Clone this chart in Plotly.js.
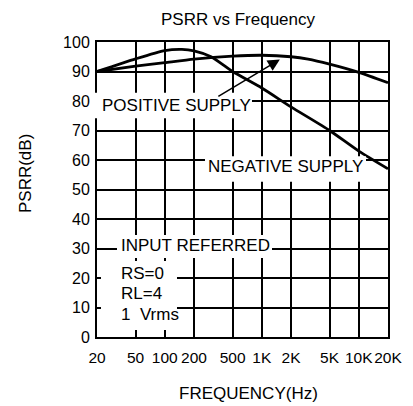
<!DOCTYPE html>
<html>
<head>
<meta charset="utf-8">
<script src="https://cdn.plot.ly/plotly-3.0.1.min.js"></script>
<style>html,body{margin:0;padding:0;background:#fff;}#chart{width:413px;height:406px;}</style>
</head>
<body>
<div id="chart"></div>
<script>
// Data
const freqA = [20, 50, 100, 150, 200, 300, 500, 1000, 2000, 5000, 10000, 20000];
const psrrA = [90, 94.3, 97.1, 97.5, 97.0, 95.0, 90.0, 84.4, 78.0, 70.0, 63.0, 57.0];
const freqB = [20, 50, 100, 200, 500, 1000, 2000, 3000, 5000, 10000, 20000];
const psrrB = [90, 91.8, 93.0, 94.2, 95.2, 95.5, 95.0, 94.2, 92.5, 89.7, 86.2];
const tickVals = [20, 50, 100, 200, 500, 1000, 2000, 5000, 10000, 20000];
const tickText = ['20', '50', '100', '200', '500', '1K', '2K', '5K', '10K', '20K'];
const yTicks = [0, 10, 20, 30, 40, 50, 60, 70, 80, 90, 100];

const FONT = 'Arial, "Liberation Sans", sans-serif';
const lineStyle = {color: '#000', width: 2.8, shape: 'spline', smoothing: 0.6};

const traces = [
  {x: freqA, y: psrrA, type: 'scatter', mode: 'lines', line: lineStyle, name: 'NEGATIVE SUPPLY', hoverinfo: 'x+y'},
  {x: freqB, y: psrrB, type: 'scatter', mode: 'lines', line: lineStyle, name: 'POSITIVE SUPPLY', hoverinfo: 'x+y'}
];

function box(x0, x1, y0, y1) {
  return {type: 'rect', xref: 'paper', yref: 'paper', x0: x0, x1: x1, y0: y0, y1: y1,
          fillcolor: '#fff', line: {width: 0}, layer: 'above'};
}
function label(text, x, y, xanchor) {
  return {text: text, xref: 'paper', yref: 'paper', x: x, y: y, xanchor: xanchor || 'center',
          yanchor: 'middle', showarrow: false, font: {family: FONT, size: 17, color: '#000'}};
}

const layout = {
  width: 413, height: 406,
  margin: {l: 97, r: 25, t: 42, b: 69, pad: 0},
  paper_bgcolor: '#fff', plot_bgcolor: '#fff',
  showlegend: false,
  font: {family: FONT, color: '#000'},
  title: {text: 'PSRR vs Frequency', font: {family: FONT, size: 17, color: '#000'},
          xref: 'container', yref: 'container', x: 238 / 413, xanchor: 'center', y: 1 - 19 / 406, yanchor: 'middle'},
  xaxis: {type: 'log', range: [Math.log10(20), Math.log10(20000)], tickmode: 'array',
          tickvals: tickVals, ticktext: tickText, tickangle: 0, ticklabelstandoff: 5,
          showgrid: true, gridcolor: '#000', gridwidth: 2,
          showline: true, linecolor: '#000', linewidth: 2, mirror: true, ticks: '', zeroline: false,
          tickfont: {family: FONT, size: 15.5, color: '#000'}, fixedrange: true},
  yaxis: {range: [0, 100], tickmode: 'array', tickvals: yTicks, ticklabelstandoff: 2,
          showgrid: true, gridcolor: '#000', gridwidth: 2,
          showline: true, linecolor: '#000', linewidth: 2, mirror: true, ticks: '', zeroline: false,
          tickfont: {family: FONT, size: 16, color: '#000'}, fixedrange: true},
  shapes: [
    box(-0.0069, 0.5326, 0.7414, 0.8281),
    box(0.3711, 0.9244, 0.5264, 0.6130),
    box(0.0687, 0.6014, 0.2678, 0.3458),
    box(0.0137, 0.2749, 0.0237, 0.2576)
  ],
  annotations: [
    label('POSITIVE SUPPLY', 0.2715, 0.7847),
    label('NEGATIVE SUPPLY', 0.6488, 0.5763),
    label('INPUT REFERRED', 0.3395, 0.3085),
    label('RS=0', 0.0756, 0.2169, 'left'),
    label('RL=4', 0.0756, 0.1458, 'left'),
    label('1  Vrms', 0.0756, 0.0746, 'left'),
    {text: '', x: Math.log10(1535), y: 94.05, xref: 'x', yref: 'y', showarrow: true,
     ax: -63, ay: 37.7, axref: 'pixel', ayref: 'pixel', arrowhead: 2, arrowsize: 1.6, arrowwidth: 1.5, arrowcolor: '#000'},
    {text: 'PSRR(dB)', xref: 'paper', yref: 'paper', x: -0.2474, y: 0.5525, textangle: -90,
     xanchor: 'center', yanchor: 'middle', showarrow: false, font: {family: FONT, size: 17, color: '#000'}},
    {text: 'FREQUENCY(Hz)', xref: 'paper', yref: 'paper', x: 0.5206, y: -0.1932,
     xanchor: 'center', yanchor: 'middle', showarrow: false, font: {family: FONT, size: 17, color: '#000'}}
  ]
};

Plotly.newPlot('chart', traces, layout, {displayModeBar: false, staticPlot: true});
</script>
</body>
</html>
